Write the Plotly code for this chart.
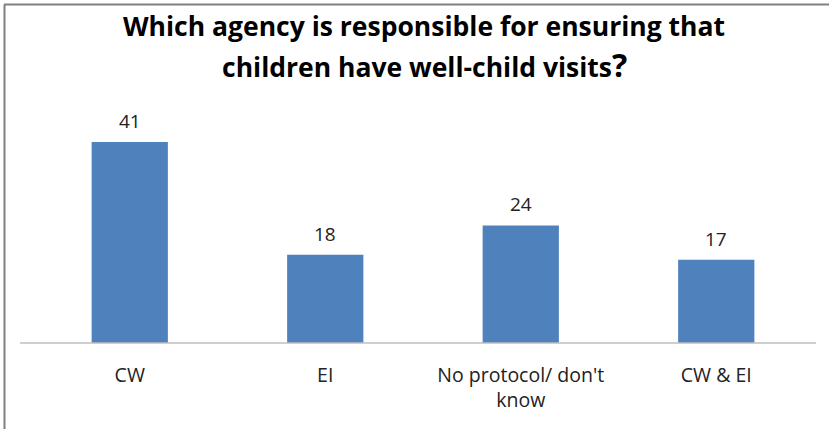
import plotly.graph_objects as go

categories = ["CW", "EI", "No protocol/ don't<br>know", "CW & EI"]
values = [41, 18, 24, 17]
title_line1 = "Which agency is responsible for ensuring that"
title_line2 = "children have well-child visits"

W, H = 829, 429
FONT = "Open Sans, sans-serif"

fig = go.Figure()
fig.add_trace(go.Bar(
    x=categories, y=values,
    marker=dict(color="#4F81BD", line=dict(width=0)),
    width=0.39,
    cliponaxis=False,
))

annotations = [
    dict(x=c, y=v, xref="x", yref="y", text=str(v), showarrow=False,
         xanchor="center", yanchor="bottom", yshift=6,
         font=dict(size=19, color="#222222", family=FONT))
    for c, v in zip(categories, values)
]
annotations += [
    dict(x=424 / W, y=1 - 26 / H, xref="paper", yref="paper",
         xanchor="center", yanchor="middle", showarrow=False,
         text="<b>" + title_line1 + "</b>",
         font=dict(size=26.5, color="black", family=FONT)),
    dict(x=424 / W, y=1 - 64 / H, xref="paper", yref="paper",
         xanchor="center", yanchor="middle", showarrow=False,
         text="<b>" + title_line2 + "<span style='font-size:32px'>?</span></b>",
         font=dict(size=26.5, color="black", family=FONT)),
]

fig.update_layout(
    width=W, height=H,
    margin=dict(l=0, r=0, t=0, b=0),
    paper_bgcolor="white", plot_bgcolor="white",
    showlegend=False,
    xaxis=dict(domain=[32 / W, 814 / W], showline=False, showgrid=False,
               ticks="", ticklabelstandoff=18,
               tickfont=dict(size=19.5, color="#222222", family=FONT)),
    yaxis=dict(domain=[86 / H, (H - 122.5) / H], range=[0, 45],
               visible=False, showgrid=False),
    annotations=annotations,
    shapes=[
        dict(type="line", xref="paper", yref="paper",
             x0=20 / W, x1=816 / W, y0=86 / H, y1=86 / H,
             line=dict(color="#BFBFBF", width=1.5)),
        dict(type="line", xref="paper", yref="paper",
             x0=4 / W, x1=1, y0=1 - 4.5 / H, y1=1 - 4.5 / H,
             line=dict(color="#808080", width=2)),
        dict(type="line", xref="paper", yref="paper",
             x0=4.5 / W, x1=4.5 / W, y0=0, y1=1 - 4.5 / H,
             line=dict(color="#808080", width=2)),
    ],
)

fig.write_html("out.html")
